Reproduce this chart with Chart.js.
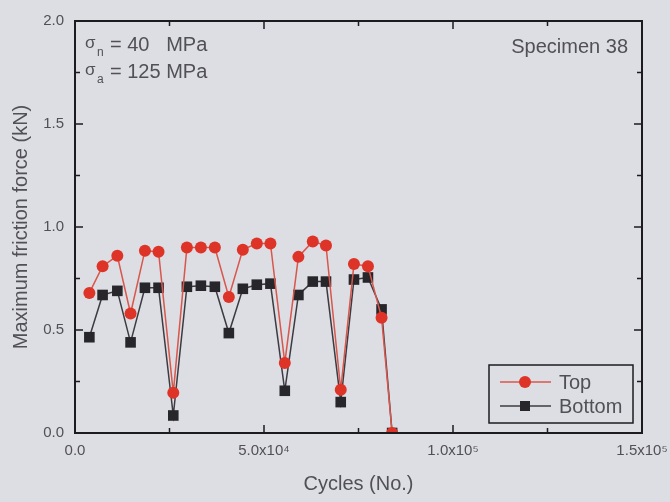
<!DOCTYPE html>
<html>
<head>
<meta charset="utf-8">
<script src="https://cdn.jsdelivr.net/npm/chart.js@4/dist/chart.umd.min.js"></script>
<style>
  html, body { margin: 0; padding: 0; background: #dddde4; }
  #wrap { width: 670px; height: 502px; }
</style>
</head>
<body>
<div id="wrap"><canvas id="c" width="670" height="502"></canvas></div>
<script>
// cycles at which friction was measured
const cycles = [3800, 7300, 11200, 14700, 18500, 22100, 26000, 29600, 33300, 37000, 40700, 44400,
  48100, 51700, 55500, 59100, 62900, 66400, 70300, 73800, 77500, 81100, 83900];
const topForce = [0.68, 0.81, 0.86, 0.58, 0.885, 0.88, 0.195, 0.90, 0.90, 0.90, 0.66, 0.89,
  0.92, 0.92, 0.34, 0.855, 0.93, 0.91, 0.21, 0.82, 0.81, 0.56, 0.0];
const bottomForce = [0.465, 0.67, 0.69, 0.44, 0.705, 0.705, 0.085, 0.71, 0.715, 0.71, 0.485, 0.70,
  0.72, 0.725, 0.205, 0.67, 0.735, 0.735, 0.15, 0.745, 0.755, 0.60, 0.0];
const xTicks = [0, 50000, 100000, 150000];
const yTicks = [0, 0.5, 1.0, 1.5, 2.0];

const textColor = "#505056";
const axisColor = "#1c1c1f";
const sup = { "4": "\u2074", "5": "\u2075" };

function xLabel(v) {
  if (v === 0) return "0.0";
  const e = Math.floor(Math.log10(v));
  return (v / Math.pow(10, e)).toFixed(1) + "x10" + sup[String(e)];
}

const series = [
  { label: "Top", data: topForce, line: "#d8574c", fill: "#de3327", shape: "circle", r: 6 },
  { label: "Bottom", data: bottomForce, line: "#3b3b40", fill: "#26262b", shape: "rect", r: 7.5 }
];

// frame, inward ticks, annotations and legend
const decor = {
  id: "decor",
  afterDatasetsDraw(chart) {
    const { ctx, chartArea: a, scales } = chart;
    const xs = scales.x, ys = scales.y;
    ctx.save();
    ctx.strokeStyle = axisColor;
    ctx.lineWidth = 2;
    ctx.strokeRect(a.left, a.top, a.right - a.left, a.bottom - a.top);
    ctx.lineWidth = 1.5;
    ctx.beginPath();
    for (let v = 0; v <= 150000; v += 25000) {
      const px = xs.getPixelForValue(v);
      const len = v % 50000 === 0 ? 8 : 5;
      ctx.moveTo(px, a.bottom); ctx.lineTo(px, a.bottom - len);
      ctx.moveTo(px, a.top); ctx.lineTo(px, a.top + len);
    }
    for (let v = 0; v <= 2.0001; v += 0.25) {
      const py = ys.getPixelForValue(v);
      const len = Math.abs(v * 2 - Math.round(v * 2)) < 1e-6 ? 8 : 5;
      ctx.moveTo(a.left, py); ctx.lineTo(a.left + len, py);
      ctx.moveTo(a.right, py); ctx.lineTo(a.right - len, py);
    }
    ctx.stroke();

    // stress annotations
    ctx.fillStyle = textColor;
    ctx.textBaseline = "middle";
    ctx.textAlign = "left";
    const notes = [["n", "= 40   MPa", 45], ["a", "= 125 MPa", 72]];
    notes.forEach(([sub, txt, y]) => {
      ctx.font = "17px 'Liberation Sans', Arial, sans-serif";
      ctx.fillText("\u03c3", 85, y - 2);
      ctx.font = "12px 'Liberation Sans', Arial, sans-serif";
      ctx.fillText(sub, 97, y + 8);
      ctx.font = "20px 'Liberation Sans', Arial, sans-serif";
      ctx.fillText(txt, 110, y);
    });
    ctx.textAlign = "right";
    ctx.fillText("Specimen 38", 628, 47);

    // legend
    const lx = 489, ly = 365, lw = 144, lh = 58;
    ctx.lineWidth = 1.5;
    ctx.strokeStyle = axisColor;
    ctx.strokeRect(lx, ly, lw, lh);
    series.forEach((s, i) => {
      const y = ly + 17 + i * 24;
      ctx.strokeStyle = s.line;
      ctx.lineWidth = 1.5;
      ctx.beginPath();
      ctx.moveTo(lx + 11, y); ctx.lineTo(lx + 62, y);
      ctx.stroke();
      ctx.fillStyle = s.fill;
      if (s.shape === "circle") {
        ctx.beginPath(); ctx.arc(lx + 36, y, 6, 0, Math.PI * 2); ctx.fill();
      } else {
        ctx.fillRect(lx + 31, y - 5, 10, 10);
      }
      ctx.fillStyle = textColor;
      ctx.textAlign = "left";
      ctx.font = "20px 'Liberation Sans', Arial, sans-serif";
      ctx.fillText(s.label, lx + 70, y + 1);
    });
    ctx.restore();
  }
};

new Chart(document.getElementById("c"), {
  type: "line",
  data: {
    datasets: series.map((s, i) => ({
      label: s.label,
      data: cycles.map((c, k) => ({ x: c, y: s.data[k] })),
      borderColor: s.line,
      borderWidth: 1.5,
      backgroundColor: s.fill,
      pointBackgroundColor: s.fill,
      pointBorderColor: s.fill,
      pointBorderWidth: 0,
      pointStyle: s.shape,
      pointRadius: s.r,
      tension: 0,
      order: i
    }))
  },
  options: {
    responsive: false,
    animation: false,
    layout: { padding: { top: 21, right: 28, left: 0, bottom: 0 } },
    plugins: { legend: { display: false }, tooltip: { enabled: false } },
    scales: {
      x: {
        type: "linear",
        min: 0, max: 150000,
        afterBuildTicks(scale) { scale.ticks = xTicks.map(v => ({ value: v })); },
        afterFit(scale) { scale.height = 69; scale.paddingLeft = 0; scale.paddingRight = 0; },
        grid: { display: false, drawTicks: false },
        border: { display: false },
        ticks: {
          callback: v => xLabel(v),
          color: textColor, padding: 9, maxRotation: 0, autoSkip: false,
          font: { size: 15, family: "'Liberation Sans', Arial, sans-serif" }
        },
        title: {
          display: true, text: "Cycles (No.)", color: textColor,
          padding: { top: 0, bottom: 6 },
          font: { size: 20, family: "'Liberation Sans', Arial, sans-serif" }
        }
      },
      y: {
        min: 0, max: 2.0,
        afterBuildTicks(scale) { scale.ticks = yTicks.map(v => ({ value: v })); },
        afterFit(scale) { scale.width = 75; },
        grid: { display: false, drawTicks: false },
        border: { display: false },
        ticks: {
          callback: v => v.toFixed(1),
          color: textColor, padding: 11,
          font: { size: 15, family: "'Liberation Sans', Arial, sans-serif" }
        },
        title: {
          display: true, text: "Maximum friction force (kN)", color: textColor,
          padding: { top: 9, bottom: 0 },
          font: { size: 20, family: "'Liberation Sans', Arial, sans-serif" }
        }
      }
    }
  },
  plugins: [decor]
});
</script>
</body>
</html>
